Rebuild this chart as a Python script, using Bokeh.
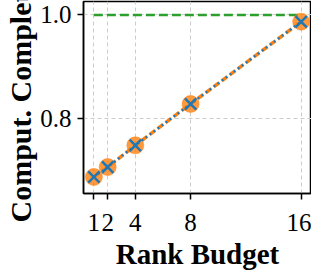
from bokeh.plotting import figure
from bokeh.models import Range1d, FixedTicker, Title
from bokeh.embed import file_html
from bokeh.resources import INLINE

rank_budget = [1, 2, 4, 8, 16]
completeness_a = [0.687, 0.706, 0.748, 0.828, 0.987]
completeness_b = [0.687, 0.706, 0.748, 0.828, 0.987]
reference_level = [1.0, 1.0]
reference_x = [1, 16]
x_ticks = [1, 2, 4, 8, 16]
y_ticks = [0.8, 1.0]

ORANGE = "#ff7f0e"
BLUE = "#1f77b4"
GREEN = "#2ca02c"
FONT = "Liberation Serif"

p = figure(width=303, height=257, output_backend="svg", toolbar_location=None,
           x_range=Range1d(0.25, 16.75), y_range=Range1d(0.655, 1.026),
           frame_width=228, frame_height=192,
           min_border_left=0, min_border_right=0, min_border_top=1, min_border_bottom=0)
p.background_fill_color = "white"
p.border_fill_color = "white"
p.outline_line_color = "black"
p.outline_line_width = 1.5

p.xaxis.ticker = FixedTicker(ticks=x_ticks)
p.yaxis.ticker = FixedTicker(ticks=y_ticks)
p.xaxis.major_label_overrides = {1: "1", 2: "2", 4: "4", 8: "8", 16: "16"}
p.yaxis.major_label_overrides = {0.8: "0.8", 1.0: "1.0"}
for ax in (p.xaxis, p.yaxis):
    ax.axis_line_color = "black"
    ax.axis_line_width = 1.5
    ax.major_tick_line_color = "black"
    ax.major_tick_line_width = 1.5
    ax.major_tick_out = 6
    ax.major_tick_in = 0
    ax.minor_tick_line_color = None
    ax.major_label_text_font = FONT
    ax.major_label_text_font_size = "25px"
    ax.major_label_text_color = "black"
p.xaxis.major_label_standoff = 14
p.yaxis.major_label_standoff = 6

p.xaxis.axis_label = "Rank Budget"
p.xaxis.axis_label_text_font = FONT
p.xaxis.axis_label_text_font_style = "bold"
p.xaxis.axis_label_text_font_size = "29px"
p.xaxis.axis_label_text_color = "black"
p.xaxis.axis_label_standoff = 4

p.xgrid.ticker = FixedTicker(ticks=x_ticks)
p.ygrid.ticker = FixedTicker(ticks=y_ticks)
for g in (p.xgrid, p.ygrid):
    g.grid_line_color = "#cccccc"
    g.grid_line_dash = "4 3"
    g.grid_line_width = 1

p.line(reference_x, reference_level, line_color=GREEN, line_width=2.5, line_dash="9 4")

p.line(rank_budget, completeness_a, line_color=ORANGE, line_width=3.5, line_dash="7 3")
p.scatter(rank_budget, completeness_a, marker="circle", size=17,
          fill_color=ORANGE, fill_alpha=0.8, line_color=ORANGE, line_alpha=0.5, line_width=1)

p.line(rank_budget, completeness_b, line_color=BLUE, line_width=2, line_dash="2 3")
p.scatter(rank_budget, completeness_b, marker="x", size=16,
          line_color=BLUE, line_width=2.5)

ylab = Title(text="Comput. Completeness", align="left", offset=-29, standoff=2,
             text_font=FONT, text_font_style="bold", text_font_size="30px",
             text_color="black")
p.add_layout(ylab, "left")

open("out.html", "w").write(file_html(p, INLINE))
